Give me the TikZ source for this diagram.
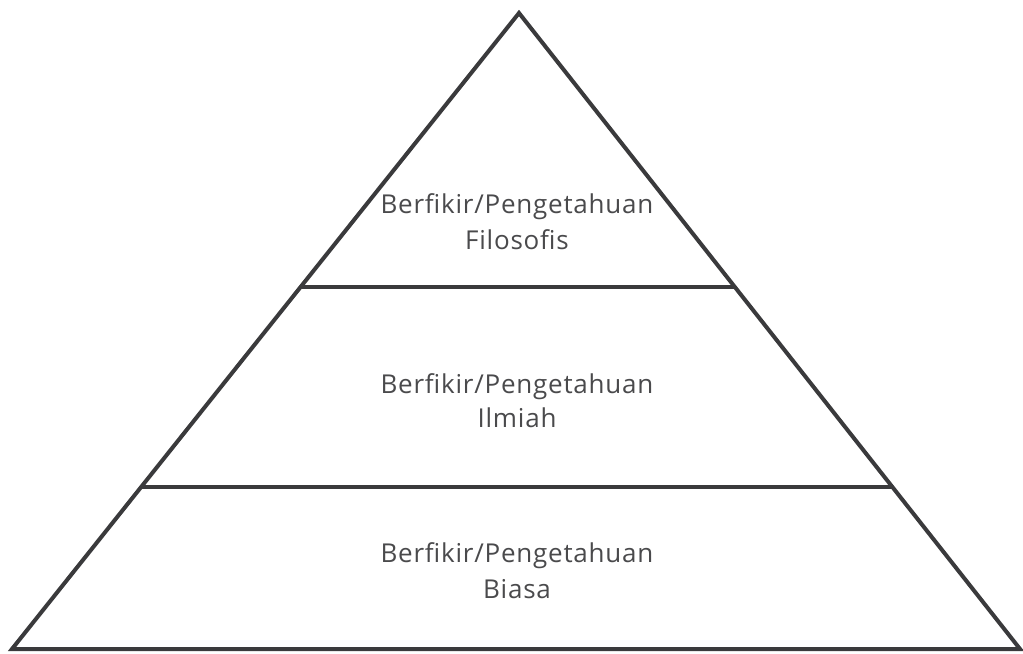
\documentclass[tikz,border=0pt]{standalone}
\usepackage{fontspec}
\setmainfont{Open Sans}[LetterSpace=3]
\usetikzlibrary{calc}
\definecolor{edge}{HTML}{3A3A3C}
\definecolor{txt}{HTML}{4A4A4C}
\tikzset{
  edgeline/.style={draw=edge, line width=3pt, line join=miter},
  divider/.style={draw=edge, line width=2.4pt},
  label/.style={text=txt, align=center, anchor=base, inner sep=0pt,
    font=\fontsize{19.5}{27}\selectfont}
}
\begin{document}
\begin{tikzpicture}[x=0.75pt,y=-0.75pt]
\useasboundingbox (0,0) rectangle (1023,653);
\coordinate (A) at (519,13);
\coordinate (L) at (12,649);
\coordinate (R) at (1020,649);
\coordinate (a1) at ($(A)!0.4308!(L)$);
\coordinate (b1) at ($(A)!0.4308!(R)$);
\coordinate (a2) at ($(A)!0.7453!(L)$);
\coordinate (b2) at ($(A)!0.7453!(R)$);
\draw[divider] (a1) -- (b1);
\draw[divider] (a2) -- (b2);
\draw[edgeline] (A) -- (L) -- (R) -- cycle;
\node[label] (t1) at (517,249) {Berfikir/Pengetahuan\\Filosofis};
\node[label, font=\fontsize{19.5}{25}\selectfont] (t2) at (517,427) {Berfikir/Pengetahuan\\Ilmiah};
\node[label] (t3) at (517,598) {Berfikir/Pengetahuan\\Biasa};
\end{tikzpicture}
\end{document}
